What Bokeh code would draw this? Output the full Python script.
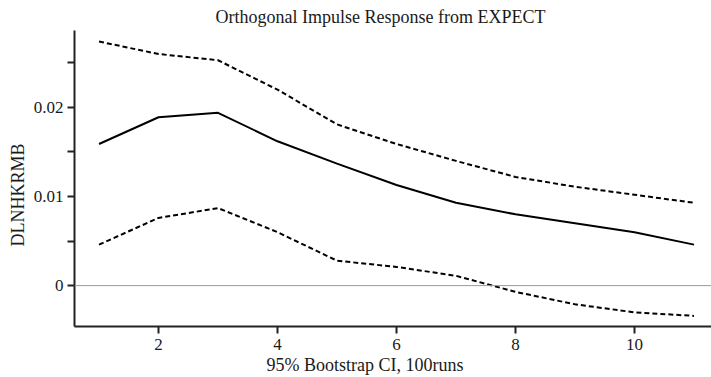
from bokeh.plotting import figure
from bokeh.models import Range1d, FixedTicker, Span, Title, ColumnDataSource
from bokeh.embed import file_html
from bokeh.resources import INLINE

# ---- data ----
steps = [1, 2, 3, 4, 5, 6, 7, 8, 9, 10, 11]
response = [0.0159, 0.0189, 0.0194, 0.0162, 0.0137, 0.0113, 0.0093, 0.0080, 0.0070, 0.0060, 0.0046]
upper_ci = [0.0274, 0.0260, 0.0253, 0.0220, 0.0181, 0.0159, 0.0140, 0.0122, 0.0111, 0.0102, 0.0093]
lower_ci = [0.0046, 0.0076, 0.0087, 0.0060, 0.0028, 0.0021, 0.0011, -0.0007, -0.0021, -0.0030, -0.0034]

x_ticks = [2, 4, 6, 8, 10]
y_ticks = [0, 0.01, 0.02]
y_minor_ticks = [0.005, 0.015, 0.025]
y_tick_labels = {0: "0", 0.01: "0.01", 0.02: "0.02"}

title_text = "Orthogonal Impulse Response from EXPECT"
x_label = "95% Bootstrap CI, 100runs"
y_label = "DLNHKRMB"

FONT = "Liberation Serif"
TXT = "#1a1a1a"

src = ColumnDataSource(dict(x=steps, r=response, up=upper_ci, lo=lower_ci))

p = figure(width=711, height=377, output_backend="svg", toolbar_location=None,
           title_location=None,
           x_range=Range1d(0.588, 11.294), y_range=Range1d(-0.00459, 0.02864),
           min_border_left=74, min_border_right=0, min_border_top=29, min_border_bottom=51)
p.outline_line_color = None
p.background_fill_color = "white"
p.border_fill_color = "white"
p.xgrid.visible = False
p.ygrid.visible = False

# zero line
p.add_layout(Span(location=0, dimension="width", line_color="#9a9a9a", line_width=1))

p.line("x", "up", source=src, line_color="black", line_width=2, line_dash="5 3")
p.line("x", "lo", source=src, line_color="black", line_width=2, line_dash="5 3")
p.line("x", "r", source=src, line_color="black", line_width=2)

# axes
for ax in (p.xaxis[0], p.yaxis[0]):
    ax.axis_line_width = 2
    ax.axis_line_color = "#222222"
    ax.major_tick_line_width = 2
    ax.major_tick_line_color = "#222222"
    ax.major_tick_in = 0
    ax.major_tick_out = 7
    ax.major_label_text_font = FONT
    ax.major_label_text_font_size = "17px"
    ax.major_label_text_color = TXT

p.xaxis.ticker = FixedTicker(ticks=x_ticks)
p.xaxis.minor_tick_line_color = None
p.xaxis.major_label_standoff = 5

p.yaxis.ticker = FixedTicker(ticks=y_ticks, minor_ticks=y_minor_ticks)
p.yaxis.minor_tick_in = 0
p.yaxis.minor_tick_out = 7
p.yaxis.minor_tick_line_width = 2
p.yaxis.minor_tick_line_color = "#222222"
p.yaxis.major_label_standoff = 4
p.yaxis.major_label_overrides = y_tick_labels

# title and axis labels as side-panel titles
def side_title(text, offset, standoff):
    return Title(text=text, align="left", offset=offset, standoff=standoff,
                 text_font=FONT, text_font_size="18px", text_font_style="normal",
                 text_color=TXT)

p.add_layout(side_title(title_text, 141, 8), "above")
p.add_layout(side_title(x_label, 192, 1), "below")
p.add_layout(side_title(y_label, 80, 6), "left")

open("out.html", "w").write(file_html(p, INLINE))
